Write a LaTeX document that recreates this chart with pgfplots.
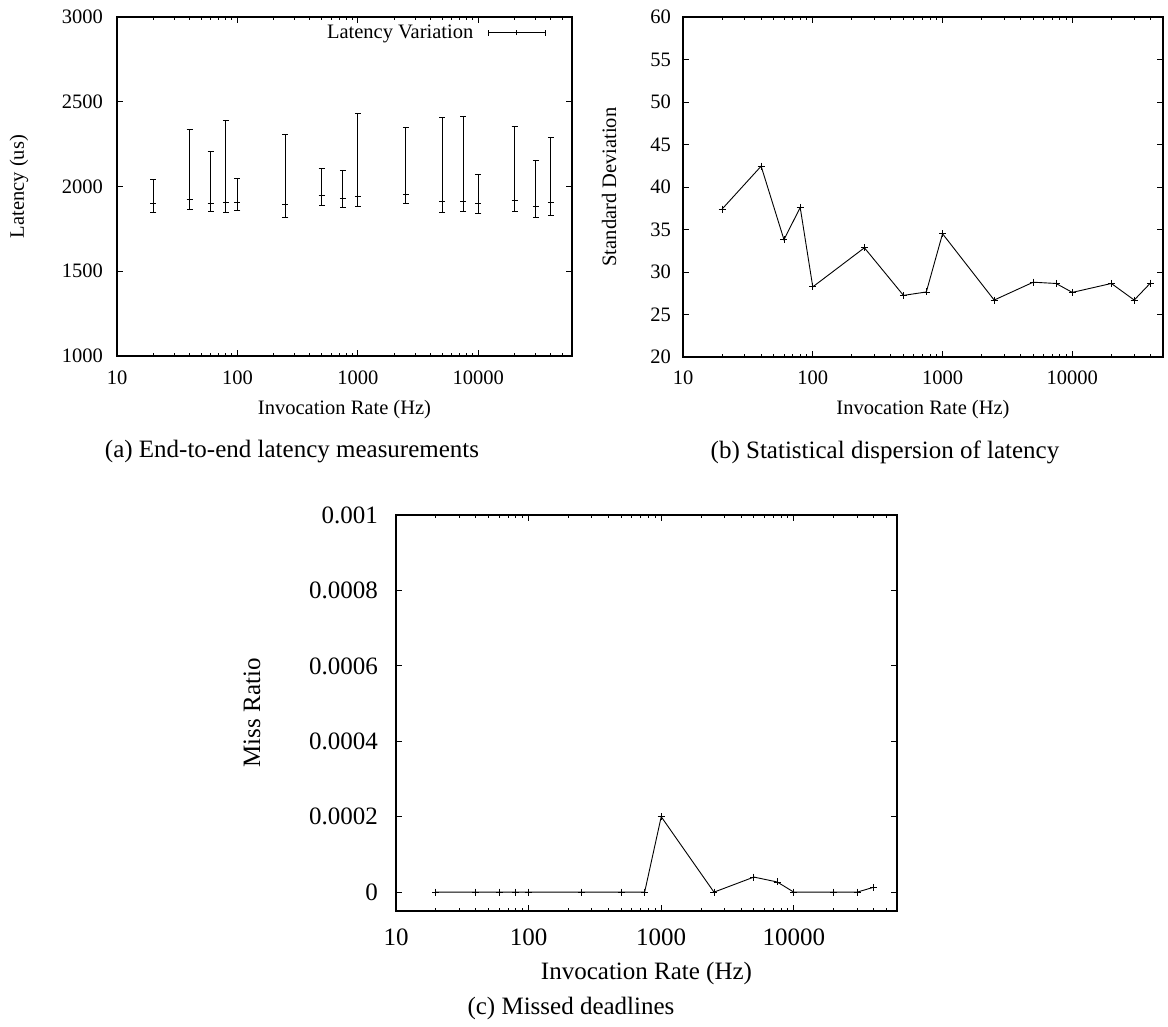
\documentclass[border=0pt]{standalone}
\usepackage{pgfplots}
\usepackage{pgfplotstable}
\pgfplotsset{compat=1.18}
\usepackage{fontspec}
\setmainfont{Liberation Serif}

\newcommand\fa{\fontsize{20.5bp}{24bp}\selectfont}
\newcommand\fc{\fontsize{25bp}{30bp}\selectfont}

\pgfplotstableread{
x y lo hi
20 1900 1845 2041
40 1923 1864 2336
60 1902 1851 2204
80 1908 1849 2387
100 1908 1861 2045
250 1892 1817 2305
500 1945 1888 2106
750 1929 1876 2092
1000 1943 1884 2428
2500 1955 1900 2346
5000 1910 1849 2409
7500 1914 1851 2415
10000 1902 1839 2069
20000 1919 1855 2354
30000 1882 1817 2151
40000 1906 1831 2289
}\lat

\pgfplotstableread{
x sd
20 37.4
40 42.45
60 33.8
80 37.6
100 28.25
250 32.85
500 27.25
750 27.65
1000 34.5
2500 26.7
5000 28.8
7500 28.65
10000 27.6
20000 28.65
30000 26.7
40000 28.7
}\sdev

\pgfplotstableread{
x miss
20 0
40 0
60 0
80 0
100 0
250 0
500 0
750 0
1000 0.0002
2500 0
5000 0.00004
7500 0.000027
10000 0
20000 0
30000 0
40000 0.000013
}\miss

\begin{document}
\begin{tikzpicture}
\path (0,0) rectangle (1168bp,-1027bp);

% (a)
\begin{axis}[
  scale only axis, anchor=south west,
  xmode=log, xmin=10,
  tick align=inside, tick pos=both,
  major tick length=6bp, minor tick length=3bp,
  axis line style={line width=1.2bp, black},
  every tick/.style={black, line width=0.9bp},
  xtick={10,100,1000,10000},
  xticklabels={10,100,1000,10000},
  minor xtick={20,30,40,50,60,70,80,90,200,300,400,500,600,700,800,900,2000,3000,4000,5000,6000,7000,8000,9000,20000,30000,40000,50000},
  scaled y ticks=false,
  at={(117bp,-356bp)}, width=455bp, height=339bp,
  xmax=60000, ymin=1000, ymax=3000,
  ytick={1000,1500,2000,2500,3000},
  yticklabels={1000,1500,2000,2500,3000},
  tick label style={font=\fa, inner sep=0pt},
  xticklabel style={anchor=center, yshift=-22bp},
  yticklabel style={anchor=east, xshift=-14bp},
  xlabel={Invocation Rate (Hz)}, ylabel={Latency (us)},
  label style={font=\fa},
  xlabel style={at={([yshift=-54bp]axis description cs:0.5,0)}, anchor=center},
  ylabel style={at={([xshift=-98bp]axis description cs:0,0.5)}, anchor=center},
  legend plot pos=right,
  legend cell align=right,
  legend style={draw=none, fill=none, font=\fa, at={(1,1)}, anchor=north east, xshift=-26bp, yshift=-6bp, inner sep=0pt},
]
\addplot[black, only marks, mark=+, mark size=3bp, line width=0.9bp,
  legend image code/.code={
    \path[draw=none, fill=none] (0bp,-4bp) rectangle (70bp,4bp);
    \draw[black, line width=1bp] (13bp,0bp) -- (70bp,0bp);
    \draw[black, line width=1bp] (13bp,-3bp) -- (13bp,3bp);
    \draw[black, line width=1bp] (70bp,-3bp) -- (70bp,3bp);
    \draw[black, line width=1bp] (41.5bp,-2.5bp) -- (41.5bp,2.5bp);
  },
  error bars/.cd, y dir=both, y explicit,
  error bar style={line width=1bp, black},
  error mark options={rotate=90, mark size=3bp, line width=1bp, black}]
  table[x=x, y=y, y error plus expr=\thisrow{hi}-\thisrow{y}, y error minus expr=\thisrow{y}-\thisrow{lo}] {\lat};
\addlegendentry{Latency Variation}
\end{axis}

% (b)
\begin{axis}[
  scale only axis, anchor=south west,
  xmode=log, xmin=10,
  tick align=inside, tick pos=both,
  major tick length=6bp, minor tick length=3bp,
  axis line style={line width=1.2bp, black},
  every tick/.style={black, line width=0.9bp},
  xtick={10,100,1000,10000},
  xticklabels={10,100,1000,10000},
  minor xtick={20,30,40,50,60,70,80,90,200,300,400,500,600,700,800,900,2000,3000,4000,5000,6000,7000,8000,9000,20000,30000,40000,50000},
  scaled y ticks=false,
  at={(683bp,-357bp)}, width=480bp, height=340bp,
  xmax=50000, ymin=20, ymax=60,
  ytick={20,25,30,35,40,45,50,55,60},
  yticklabels={20,25,30,35,40,45,50,55,60},
  tick label style={font=\fa, inner sep=0pt},
  xticklabel style={anchor=center, yshift=-21bp},
  yticklabel style={anchor=east, xshift=-12bp},
  xlabel={Invocation Rate (Hz)}, ylabel={Standard Deviation},
  label style={font=\fa},
  xlabel style={at={([yshift=-53bp]axis description cs:0.5,0)}, anchor=center},
  ylabel style={at={([xshift=-74bp]axis description cs:0,0.5)}, anchor=center},
]
\addplot[black, line width=0.9bp, mark=+, mark size=3.5bp] table[x=x, y=sd] {\sdev};
\end{axis}

% (c)
\begin{axis}[
  scale only axis, anchor=south west,
  xmode=log, xmin=10,
  tick align=inside, tick pos=both,
  major tick length=6bp, minor tick length=3bp,
  axis line style={line width=1.2bp, black},
  every tick/.style={black, line width=0.9bp},
  xtick={10,100,1000,10000},
  xticklabels={10,100,1000,10000},
  minor xtick={20,30,40,50,60,70,80,90,200,300,400,500,600,700,800,900,2000,3000,4000,5000,6000,7000,8000,9000,20000,30000,40000,50000},
  scaled y ticks=false,
  at={(396bp,-911bp)}, width=501bp, height=396bp,
  xmax=60000, ymin=-0.00005, ymax=0.001,
  ytick={0,0.0002,0.0004,0.0006,0.0008,0.001},
  yticklabels={0,0.0002,0.0004,0.0006,0.0008,0.001},
  tick label style={font=\fc, inner sep=0pt},
  xticklabel style={anchor=center, yshift=-26bp},
  yticklabel style={anchor=east, xshift=-18bp},
  xlabel={Invocation Rate (Hz)}, ylabel={Miss Ratio},
  label style={font=\fc},
  xlabel style={at={([yshift=-62bp]axis description cs:0.5,0)}, anchor=center},
  ylabel style={at={([xshift=-144bp]axis description cs:0,0.5)}, anchor=center},
]
\addplot[black, line width=0.9bp, mark=+, mark size=3.5bp] table[x=x, y=miss] {\miss};
\end{axis}

\node[font=\fc, anchor=center] at (292bp,-452bp) {(a) End-to-end latency measurements};
\node[font=\fc, anchor=center] at (885bp,-452bp) {(b) Statistical dispersion of latency};
\node[font=\fc, anchor=center] at (571bp,-1008bp) {(c) Missed deadlines};
\end{tikzpicture}
\end{document}
